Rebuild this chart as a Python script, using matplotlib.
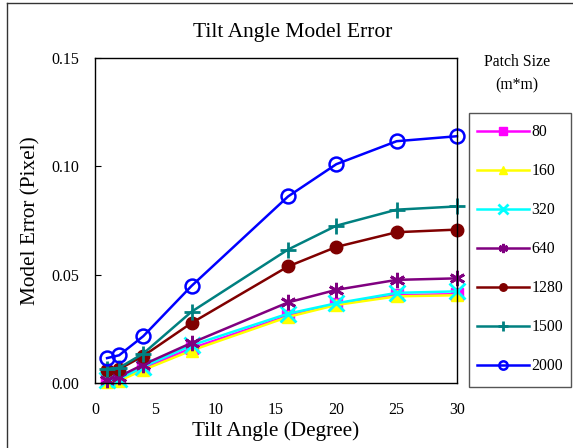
import numpy as np
import matplotlib.pyplot as plt
from matplotlib.lines import Line2D
from matplotlib.patches import Rectangle

plt.rcParams['font.family'] = ['Liberation Serif', 'DejaVu Serif']

# data
tilt = [1, 2, 4, 8, 16, 20, 25, 30]
err_80 = [0.001, 0.0015, 0.007, 0.016, 0.031, 0.0365, 0.0405, 0.041]
err_160 = [0.0005, 0.001, 0.006, 0.015, 0.0305, 0.036, 0.040, 0.0405]
err_320 = [0.0012, 0.0018, 0.0075, 0.0174, 0.032, 0.0368, 0.0416, 0.0423]
err_640 = [0.0015, 0.003, 0.0085, 0.0185, 0.0372, 0.043, 0.0476, 0.0483]
err_1280 = [0.006, 0.0064, 0.0125, 0.0277, 0.0538, 0.0628, 0.0696, 0.0708]
err_1500 = [0.0065, 0.007, 0.0136, 0.0329, 0.0616, 0.0726, 0.080, 0.0815]
err_2000 = [0.0115, 0.0128, 0.0216, 0.0448, 0.0861, 0.101, 0.1116, 0.1139]

labels = ['80', '160', '320', '640', '1280', '1500', '2000']
series = [err_80, err_160, err_320, err_640, err_1280, err_1500, err_2000]
colors = ['#FF00FF', '#FFFF00', '#00FFFF', '#800080', '#800000', '#008080', '#0000FF']
markers = ['s', '^', 'x', (6, 2, 0), 'o', '+', 'o']

fig = plt.figure(figsize=(5.73, 4.48), dpi=100)
ax = fig.add_axes([95/573, 1-383/448, 362/573, 325/448])

for vals, lab, c, m in zip(series, labels, colors, markers):
    kw = dict(color=c, marker=m, lw=1.8, ms=9, label=lab)
    if lab == '2000':
        kw['mfc'] = 'none'
        kw['mew'] = 1.8
        kw['ms'] = 10
    elif m in ('x', '+') or m == (6, 2, 0):
        kw['mew'] = 2
        kw['ms'] = 11
    ax.plot(tilt, vals, clip_on=False, **kw)

ax.set_xlim(0, 30)
ax.set_ylim(0, 0.15)
ax.set_xticks([0, 5, 10, 15, 20, 25, 30])
ax.set_yticks([0.0, 0.05, 0.1, 0.15])
ax.set_yticklabels(['0.00', '0.05', '0.10', '0.15'])
ax.tick_params(direction='in', length=4, labelsize=11.5)
ax.tick_params(axis='x', pad=14, length=0)
ax.tick_params(axis='y', pad=11)
for s in ax.spines.values():
    s.set_linewidth(1)

ax.set_xlabel('Tilt Angle (Degree)', fontsize=15.3, labelpad=2)
ax.set_ylabel('Model Error (Pixel)', fontsize=15.3, labelpad=8)
fig.text(293/573, 1-33/448, 'Tilt Angle Model Error', fontsize=15.5, ha='center', va='center')
fig.text(517/573, 1-62/448, 'Patch Size', fontsize=11.3, ha='center', va='center')
fig.text(517/573, 1-85/448, '(m*m)', fontsize=11.3, ha='center', va='center')

leg = fig.legend(loc='upper left', bbox_to_anchor=(477/573, 1-124/448),
                 bbox_transform=fig.transFigure, borderaxespad=0,
                 fontsize=11.3, labelspacing=1.47, handlelength=3.3,
                 handletextpad=0.15, markerscale=0.6, frameon=False,
                 borderpad=0)

# legend box drawn by hand so it fits inside the figure
fig.patches.append(Rectangle((469/573, 1-387/448), 102/573, 274/448, transform=fig.transFigure,
                             fill=False, edgecolor='#555555', lw=1))

# figure border, only left and top edges are in view
fig.lines.append(Line2D([7/573, 7/573], [0, 1-3/448], transform=fig.transFigure, color='#333333', lw=1))
fig.lines.append(Line2D([7/573, 1], [1-3/448, 1-3/448], transform=fig.transFigure, color='#333333', lw=1))

fig.savefig('out.png', dpi=100)
